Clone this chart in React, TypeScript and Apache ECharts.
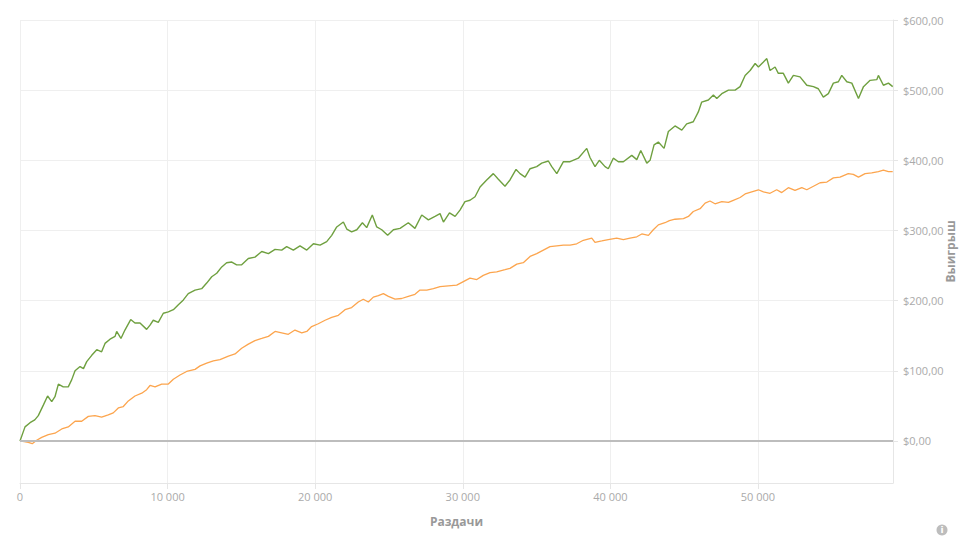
import React, { useEffect, useRef } from "react";
import * as echarts from "echarts";

const xTicks = [0, 10000, 20000, 30000, 40000, 50000];
const yTicks = [0, 100, 200, 300, 400, 500, 600];
const xName = "Раздачи";
const yName = "Выигрыш";

const greenSeries: [number, number][] = [
  [0, 0], [340, 20], [680, 26], [1000, 30], [1240, 36], [1580, 51], [1870, 64], [2150, 56], [2370, 63], [2600, 81],
  [2930, 77], [3270, 77], [3500, 87], [3730, 100], [4070, 106], [4300, 103], [4520, 113], [4860, 122], [5200, 130],
  [5530, 127], [5760, 139], [6100, 145], [6440, 149], [6550, 156], [6840, 146], [7110, 158], [7500, 173], [7790, 168],
  [8130, 168], [8580, 159], [8810, 165], [9030, 172], [9370, 169], [9710, 182], [10050, 184], [10390, 187], [10730, 194],
  [11070, 201], [11400, 210], [11860, 215], [12310, 217], [12650, 225], [12990, 234], [13330, 239], [13670, 248],
  [14000, 254], [14350, 255], [14680, 251], [15020, 251], [15470, 260], [15920, 262], [16380, 270], [16830, 267],
  [17280, 273], [17730, 272], [18070, 277], [18520, 272], [18970, 278], [19430, 272], [19880, 281], [20330, 279],
  [20780, 284], [21120, 293], [21460, 305], [21910, 312], [22140, 302], [22470, 298], [22820, 301], [23200, 311],
  [23490, 304], [23870, 322], [24170, 305], [24510, 301], [24910, 293], [25300, 301], [25750, 303], [26310, 311],
  [26760, 303], [27220, 322], [27670, 315], [28120, 320], [28460, 324], [28690, 312], [29100, 325], [29480, 320],
  [29810, 329], [30150, 341], [30490, 343], [30830, 348], [31170, 362], [31620, 372], [32070, 381], [32410, 373],
  [32860, 363], [33200, 372], [33610, 387], [33880, 381], [34220, 376], [34560, 388], [35010, 391], [35350, 396],
  [35800, 399], [36030, 391], [36370, 381], [36820, 398], [37270, 398], [37830, 403], [38400, 417], [38620, 404],
  [38960, 391], [39250, 400], [39640, 391], [39860, 388], [40200, 403], [40540, 398], [40880, 398], [41450, 407],
  [41790, 401], [42060, 414], [42470, 396], [42690, 400], [42960, 422], [43250, 426], [43640, 417], [43930, 441],
  [44380, 449], [44840, 443], [45170, 452], [45620, 455], [45960, 469], [46190, 483], [46640, 486], [46980, 493],
  [47210, 488], [47550, 495], [48000, 500], [48450, 500], [48790, 505], [49130, 521], [49470, 528], [49810, 538],
  [50030, 533], [50370, 540], [50600, 545], [50820, 528], [51160, 533], [51380, 524], [51720, 524], [52060, 510],
  [52400, 521], [52850, 519], [53310, 507], [53760, 505], [54090, 502], [54430, 490], [54770, 495], [55110, 510],
  [55450, 512], [55680, 521], [56020, 512], [56360, 510], [56810, 488], [57150, 505], [57600, 514], [58050, 515],
  [58160, 521], [58500, 507], [58840, 510], [59130, 505],
];

const orangeSeries: [number, number][] = [
  [0, 0], [560, -2], [830, -4], [1130, 1], [1470, 5], [1920, 9], [2370, 11], [2830, 17], [3270, 20], [3730, 28],
  [4180, 28], [4630, 35], [5080, 36], [5530, 34], [5980, 37], [6320, 40], [6660, 47], [7000, 49], [7340, 57],
  [7790, 64], [8250, 68], [8580, 73], [8810, 79], [9150, 77], [9600, 81], [10050, 81], [10390, 88], [10840, 94],
  [11290, 99], [11860, 102], [12200, 107], [12650, 111], [13100, 114], [13550, 116], [14120, 121], [14570, 124],
  [15020, 132], [15470, 138], [15920, 143], [16380, 146], [16830, 149], [17280, 156], [17730, 154], [18180, 152],
  [18630, 158], [19090, 154], [19430, 156], [19760, 163], [20210, 167], [20670, 172], [21120, 176], [21570, 179],
  [22020, 187], [22470, 190], [22920, 198], [23260, 202], [23600, 198], [23940, 205], [24280, 207], [24620, 210],
  [24960, 206], [25410, 202], [25860, 203], [26310, 206], [26760, 209], [27100, 215], [27560, 215], [28010, 217],
  [28460, 220], [29020, 221], [29590, 222], [30040, 227], [30490, 232], [30950, 230], [31390, 236], [31850, 240],
  [32300, 241], [32860, 244], [33200, 246], [33660, 252], [34100, 254], [34560, 263], [35010, 267], [35460, 272],
  [35910, 277], [36370, 278], [36820, 279], [37270, 279], [37720, 281], [38170, 286], [38740, 289], [38960, 283],
  [39420, 285], [39860, 287], [40430, 289], [40880, 287], [41330, 289], [41790, 291], [42130, 295], [42580, 293],
  [42910, 301], [43250, 308], [43700, 311], [44000, 314], [44380, 316], [44950, 317], [45290, 320], [45620, 327],
  [46080, 331], [46420, 339], [46750, 342], [47090, 338], [47550, 341], [48000, 340], [48330, 343], [48790, 347],
  [49130, 352], [49580, 355], [50030, 358], [50370, 355], [50820, 353], [51270, 358], [51610, 354], [52060, 361],
  [52510, 357], [52970, 361], [53310, 358], [53760, 363], [54210, 368], [54670, 369], [55110, 375], [55560, 376],
  [56120, 381], [56460, 380], [56810, 376], [57260, 381], [57710, 382], [58160, 384], [58500, 386], [58840, 384],
  [59130, 384],
];

const fmtX = (v: number) => String(Math.round(v)).replace(/\B(?=(\d{3})+(?!\d))/g, " ");
const fmtY = (v: number) => "$" + v.toFixed(2).replace(".", ",");

export default function App() {
  const ref = useRef<HTMLDivElement>(null);
  useEffect(() => {
    document.body.style.margin = "0";
    const chart = echarts.init(ref.current!, null, { renderer: "svg" });
    const font = "'Open Sans', 'DejaVu Sans', sans-serif";
    chart.setOption({
      animation: false,
      textStyle: { fontFamily: font },
      grid: { left: 20, right: 75, top: 20, bottom: 57, outerBoundsMode: "none", containLabel: false },
      xAxis: {
        type: "value",
        min: 0,
        max: 59150,
        interval: 10000,
        name: xName,
        nameLocation: "middle",
        nameGap: 32,
        nameMoveOverlap: false,
        nameTextStyle: { color: "#999", fontSize: 12, fontWeight: "bold", fontFamily: font },
        axisLine: { show: true, onZero: false, lineStyle: { color: "#e6e6e6", width: 1 } },
        axisTick: { show: true, length: 6, customValues: xTicks, lineStyle: { color: "#e6e6e6" } },
        axisLabel: { customValues: xTicks, formatter: fmtX, color: "#aaa", fontSize: 11, margin: 8, fontFamily: font },
        splitLine: { show: true, lineStyle: { color: "#efefef", width: 1 } },
      },
      yAxis: {
        type: "value",
        position: "right",
        min: -60,
        max: 600,
        name: yName,
        nameLocation: "middle",
        nameRotate: 90,
        nameGap: 51,
        nameMoveOverlap: false,
        nameTextStyle: { color: "#999", fontSize: 12, fontWeight: "bold", fontFamily: font },
        axisLine: { show: true, onZero: false, lineStyle: { color: "#e6e6e6", width: 1 } },
        axisTick: { show: true, length: 5, customValues: yTicks, lineStyle: { color: "#e6e6e6" } },
        axisLabel: { customValues: yTicks, formatter: fmtY, color: "#aaa", fontSize: 11, margin: 10, fontFamily: font },
        splitLine: { show: true, lineStyle: { color: "#efefef", width: 1 } },
      },
      series: [
        {
          type: "line",
          data: orangeSeries,
          showSymbol: false,
          symbol: "none",
          lineStyle: { color: "#fca54e", width: 1.3 },
          z: 2,
        },
        {
          type: "line",
          data: greenSeries,
          showSymbol: false,
          symbol: "none",
          lineStyle: { color: "#6fa040", width: 1.4 },
          z: 3,
          markLine: {
            silent: true,
            symbol: ["none", "none"],
            label: { show: false },
            lineStyle: { color: "#bdbdbd", width: 2, type: "solid" },
            data: [{ yAxis: 0 }],
          },
        },
      ],
      graphic: [
        { type: "circle", shape: { cx: 942, cy: 530, r: 5.5 }, style: { fill: "#bdbdbd" } },
        {
          type: "text",
          x: 942,
          y: 530,
          style: { text: "i", fill: "#fff", font: "bold 9px 'DejaVu Sans', sans-serif", align: "center", verticalAlign: "middle" },
        },
      ],
    });
    return () => chart.dispose();
  }, []);
  return <div ref={ref} style={{ width: 968, height: 540 }} />;
}
